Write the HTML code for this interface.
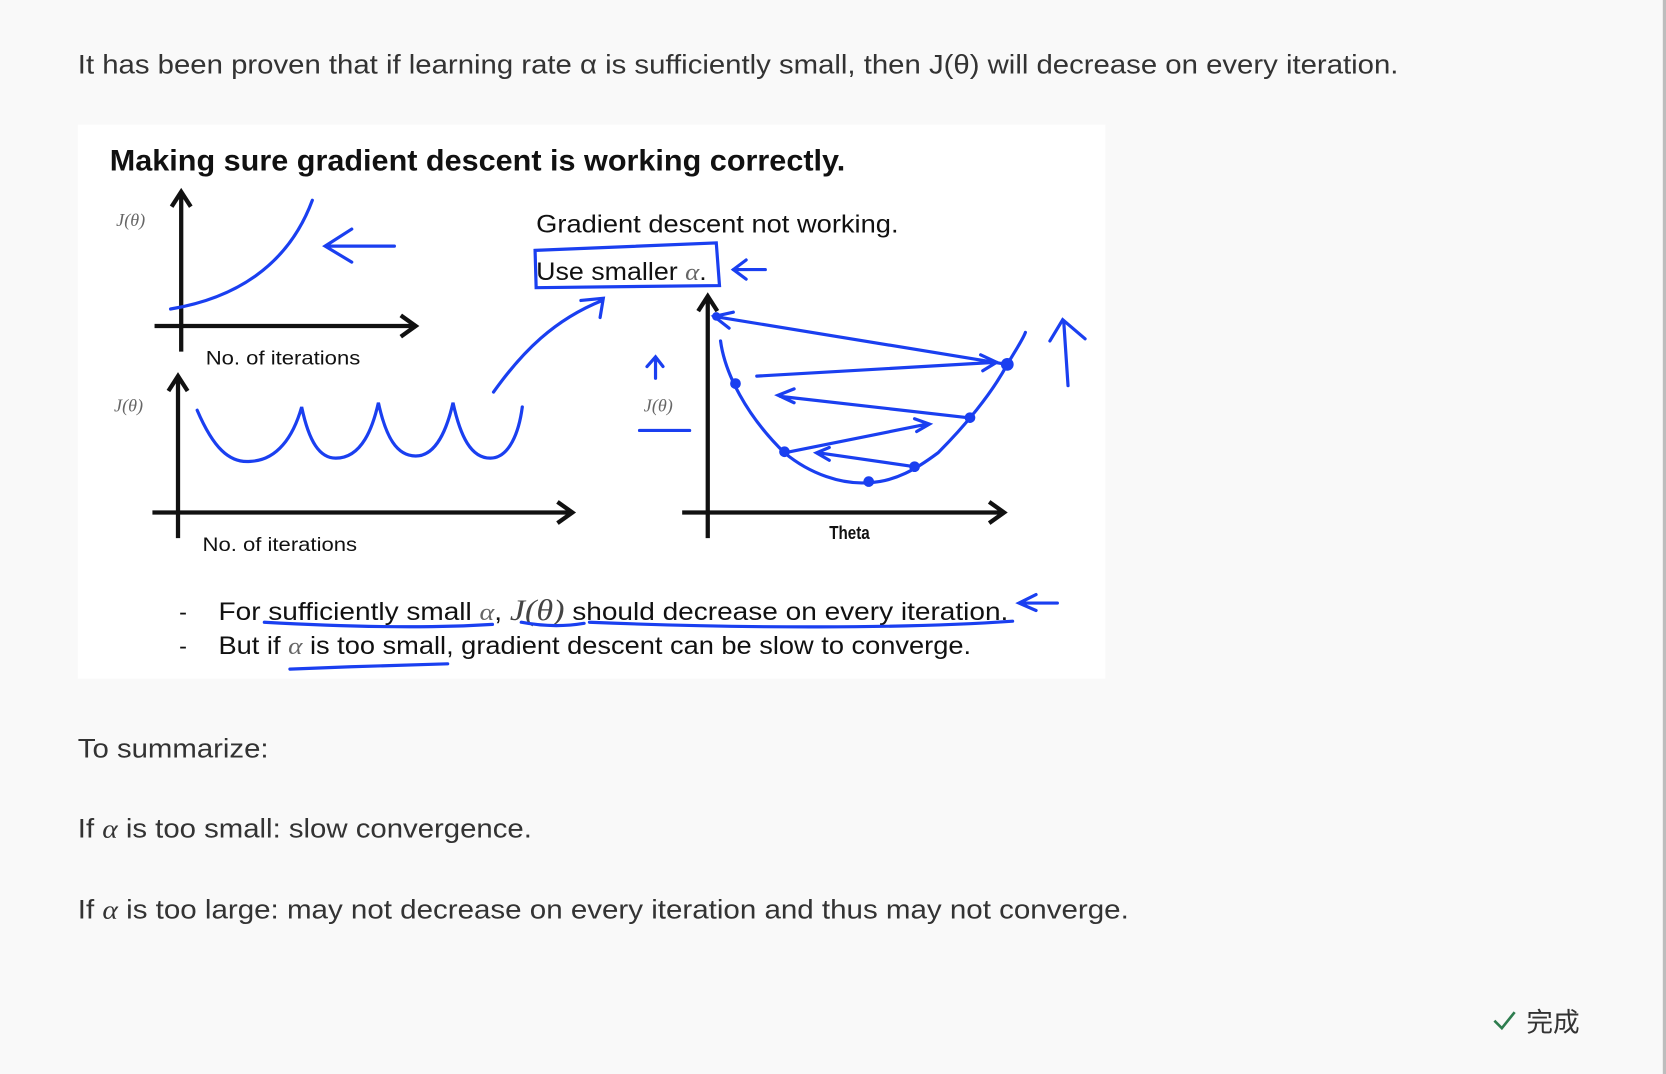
<!DOCTYPE html>
<html><head><meta charset="utf-8"><style>
html,body{margin:0;padding:0;background:#f9f9f9;}
svg{display:block;}
</style></head><body>
<svg width="1666" height="1074" viewBox="0 0 1563 1008" preserveAspectRatio="none" xmlns="http://www.w3.org/2000/svg">
<rect width="1563" height="1008" fill="#f9f9f9"/>
<rect x="1560" y="0" width="3" height="1008" fill="#bdbdbd"/>
<g font-family="Liberation Sans, sans-serif" font-size="25" fill="#333">
<text x="73" y="69" textLength="1239" lengthAdjust="spacingAndGlyphs">It has been proven that if learning rate α is sufficiently small, then J(θ) will decrease on every iteration.</text>
<text x="73" y="711" textLength="179" lengthAdjust="spacingAndGlyphs">To summarize:</text>
<text x="73" y="786" textLength="426" lengthAdjust="spacingAndGlyphs">If <tspan font-family="Liberation Serif, serif" font-style="italic">α</tspan> is too small: slow convergence.</text>
<text x="73" y="862" textLength="986" lengthAdjust="spacingAndGlyphs">If <tspan font-family="Liberation Serif, serif" font-style="italic">α</tspan> is too large: may not decrease on every iteration and thus may not converge.</text>
</g>
<path d="M1402 958 L1409 965 L1421 950" fill="none" stroke="#2e7d4f" stroke-width="2.5"/>
<text x="1432" y="968" font-family="Liberation Sans, 'Noto Sans CJK SC', sans-serif" font-size="25" fill="#333">完成</text>

<rect x="73" y="117" width="964" height="520" fill="#fff"/>
<g font-family="Liberation Sans, sans-serif" fill="#111">
<text x="103" y="160" font-size="28" font-weight="bold" textLength="690" lengthAdjust="spacingAndGlyphs">Making sure gradient descent is working correctly.</text>
<text x="503" y="218" font-size="23" textLength="340" lengthAdjust="spacingAndGlyphs">Gradient descent not working.</text>
<text x="503" y="263" font-size="23" textLength="160" lengthAdjust="spacingAndGlyphs">Use smaller <tspan font-family="Liberation Serif, serif" font-style="italic" fill="#666">α</tspan>.</text>
<text x="193" y="342" font-size="18" textLength="145" lengthAdjust="spacingAndGlyphs">No. of iterations</text>
<text x="190" y="517" font-size="18" textLength="145" lengthAdjust="spacingAndGlyphs">No. of iterations</text>
<text x="778" y="506" font-size="17" font-weight="bold" textLength="38" lengthAdjust="spacingAndGlyphs">Theta</text>
<g font-family="Liberation Serif, serif" font-style="italic" font-size="17" fill="#666">
<text x="109" y="212">J(θ)</text>
<text x="107" y="386">J(θ)</text>
<text x="604" y="386">J(θ)</text>
</g>
<text x="168" y="582" font-size="22">-</text>
<text x="168" y="614" font-size="22">-</text>
<text x="205" y="582" font-size="23" textLength="741" lengthAdjust="spacingAndGlyphs">For sufficiently small  <tspan font-family="Liberation Serif, serif" font-style="italic" fill="#666">α</tspan>,  <tspan font-family="Liberation Serif, serif" font-style="italic" font-size="28" fill="#444">J(θ)</tspan> should decrease on every iteration.</text>
<text x="205" y="614" font-size="23" textLength="706" lengthAdjust="spacingAndGlyphs">But if <tspan font-family="Liberation Serif, serif" font-style="italic" fill="#666">α</tspan> is too small, gradient descent can be slow to converge.</text>
</g>
<g stroke="#111" stroke-width="4" fill="none">
<path d="M170 330 V182 M161 194 L170 180 L179 194"/>
<path d="M145 306 H388 M376 296 L390 306 L376 316"/>
<path d="M167 505 V355 M158 367 L167 353 L176 367"/>
<path d="M143 481 H535 M523 471 L537 481 L523 491"/>
<path d="M664 505 V280 M655 292 L664 278 L673 292"/>
<path d="M640 481 H940 M928 471 L942 481 L928 491"/>
</g>
<g stroke="#1a3ff0" stroke-width="3" fill="none" stroke-linecap="round">
<path d="M160 290 C220 280 270 250 293 188"/>
<path d="M370 231 H306 M330 215 L305 231 L330 246"/>
<path d="M185 385 C200 420 215 435 235 433 C260 432 275 410 283 382 C290 415 300 430 315 430 C340 430 350 400 355 378 C362 410 372 428 390 428 C410 428 420 400 425 378 C432 410 442 430 460 430 C478 430 487 405 490 382"/>
<path d="M463 368 C490 330 520 300 565 282 M545 282 L566 280 L563 298"/>
<path d="M502 235 L672 228 L675 268 L503 270 Z"/>
<path d="M718 253 H688 M700 244 L688 253 L700 262"/>
<path d="M615 355 V335 M607 344 L615 335 L622 344"/>
<path d="M600 404 H647"/>
<path d="M676 320 C680 350 700 390 736 425 C760 445 790 455 815 453 C840 452 860 440 880 425 C905 400 930 370 945 342 C955 325 960 318 962 312"/>
<path d="M945 342 L670 297 M688 293 L670 297 L684 308"/>
<path d="M710 353 L935 340 M920 333 L935 340 L922 348"/>
<path d="M908 392 L732 372 M745 365 L730 371 L745 378"/>
<path d="M736 425 L870 398 M858 393 L872 398 L860 405"/>
<path d="M858 438 L768 425 M778 420 L766 425 L778 432"/>
<path d="M1002 362 L998 302 M985 320 L997 300 L1018 318"/>
<path d="M992 566 H957 M972 558 L956 566 L972 573"/>
<path d="M248 584 C320 588 400 590 462 586"/>
<path d="M489 584 C510 588 530 588 548 585"/>
<path d="M553 584 C700 590 850 590 950 583"/>
<path d="M272 628 C320 626 380 624 420 623"/>
</g>
<g fill="#1a3ff0">
<circle cx="690" cy="360" r="5"/><circle cx="736" cy="424" r="5"/>
<circle cx="815" cy="452" r="5"/><circle cx="858" cy="438" r="5"/>
<circle cx="910" cy="392" r="5"/><circle cx="945" cy="342" r="6"/>
<circle cx="672" cy="297" r="4"/>
</g>
</svg>
</body></html>
